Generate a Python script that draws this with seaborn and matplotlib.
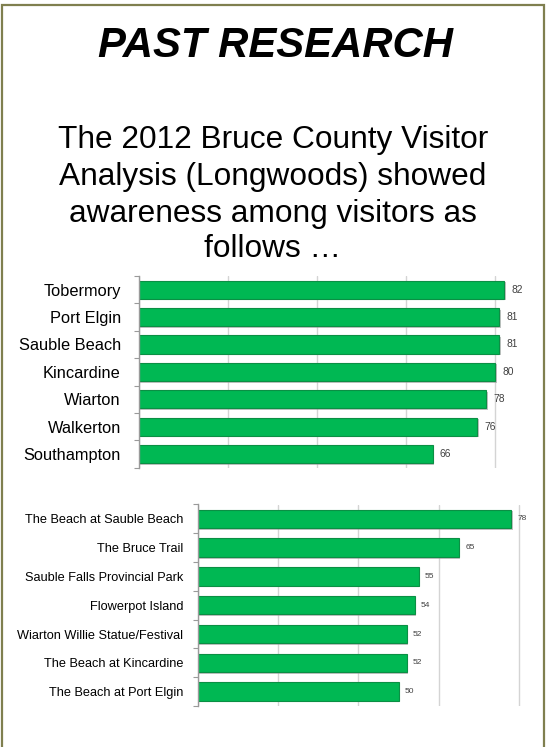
import matplotlib
matplotlib.use('Agg')
import matplotlib.pyplot as plt
import seaborn as sns
import pandas as pd
import numpy as np
from matplotlib.ticker import FixedLocator
from matplotlib.lines import Line2D
import matplotlib.patheffects as pe

# ---- data ----
towns = ["Tobermory", "Port Elgin", "Sauble Beach", "Kincardine",
         "Wiarton", "Walkerton", "Southampton"]
town_values = [82, 81, 81, 80, 78, 76, 66]

attractions = ["The Beach at Sauble Beach", "The Bruce Trail",
               "Sauble Falls Provincial Park", "Flowerpot Island",
               "Wiarton Willie Statue/Festival", "The Beach at Kincardine",
               "The Beach at Port Elgin"]
attraction_values = [78, 65, 55, 54, 52, 52, 50]

grid_ticks = [0, 20, 40, 60, 80]

title_text = "PAST RESEARCH"
subtitle_lines = ["The 2012 Bruce County Visitor",
                  "Analysis (Longwoods) showed",
                  "awareness among visitors as",
                  "follows \u2026"]

# ---- style ----
sns.set_theme(style='white')
plt.rcParams['font.family'] = ['Liberation Sans', 'DejaVu Sans']

W, H = 546, 747
fig = plt.figure(figsize=(W / 100, H / 100), dpi=100)
fig.patch.set_facecolor('white')

BAR = '#00B853'
EDGE = '#0B8F44'
GRID = '#D4D4D4'
AXIS = '#9A9A9A'


def px_axes(left, top, right, bottom):
    return fig.add_axes([left / W, 1 - bottom / H, (right - left) / W, (bottom - top) / H])


def draw_chart(ax, cats, vals, xmax, bar_w, label_fs, value_fs, pad, val_off):
    df = pd.DataFrame({'cat': cats, 'val': vals})
    sns.barplot(data=df, y='cat', x='val', orient='h', color=BAR, saturation=1,
                width=bar_w, edgecolor=EDGE, linewidth=0.8, ax=ax)
    for p in ax.patches:
        p.set_path_effects([pe.SimplePatchShadow(offset=(1.2, -1.2), shadow_rgbFace='#9a9a9a', alpha=0.6),
                            pe.Normal()])
    ax.set_xlim(0, xmax)
    ax.set_ylim(len(cats) - 0.5, -0.5)
    ax.set_xticks(grid_ticks)
    ax.set_xticklabels([])
    ax.xaxis.grid(True, color=GRID, lw=1)
    ax.yaxis.grid(False)
    ax.set_axisbelow(True)
    ax.set_xlabel('')
    ax.set_ylabel('')
    for s in ['top', 'right', 'bottom']:
        ax.spines[s].set_visible(False)
    ax.spines['left'].set_color(AXIS)
    ax.spines['left'].set_linewidth(1)
    ax.tick_params(axis='x', length=0)
    ax.tick_params(axis='y', which='major', length=0, pad=pad, labelsize=label_fs, labelcolor='black')
    ax.yaxis.set_minor_locator(FixedLocator(np.arange(-0.5, len(cats), 1)))
    ax.tick_params(axis='y', which='minor', left=True, length=3.3, width=0.8, color=AXIS)
    ax.set_facecolor('none')
    for i, v in enumerate(vals):
        ax.text(v + val_off, i, str(v), va='center', ha='left', fontsize=value_fs, color='#404040')


# top chart
ax1 = px_axes(138.6, 276, 138.6 + 90 * 4.455, 467.7)
draw_chart(ax1, towns, town_values, 90, 0.66, 11.8, 7.4, 12.8, 1.6)

# bottom chart
ax2 = px_axes(197.8, 504.5, 197.8 + 85 * 4.015, 706)
draw_chart(ax2, attractions, attraction_values, 85, 0.64, 9.2, 6, 10.5, 1.6)

# title + subtitle
fig.text(275 / W, 1 - 56.7 / H, title_text, ha='center', va='baseline',
         fontsize=30.2, fontweight='bold', fontstyle='italic', color='black')
baselines = [148.3, 185, 221.7, 256.7]
for line, b in zip(subtitle_lines, baselines):
    fig.text(273 / W, 1 - b / H, line, ha='center', va='baseline', fontsize=22.8, color='black')

# frame (left, top, right)
frame_col = '#7F7F4F'
fig.add_artist(Line2D([1.5 / W, 1.5 / W, 544 / W, 544 / W],
                      [0, 1 - 5 / H, 1 - 5 / H, 0],
                      transform=fig.transFigure, color=frame_col, lw=1.6,
                      solid_joinstyle='miter'))

fig.savefig('out.png', dpi=100, facecolor='white')
